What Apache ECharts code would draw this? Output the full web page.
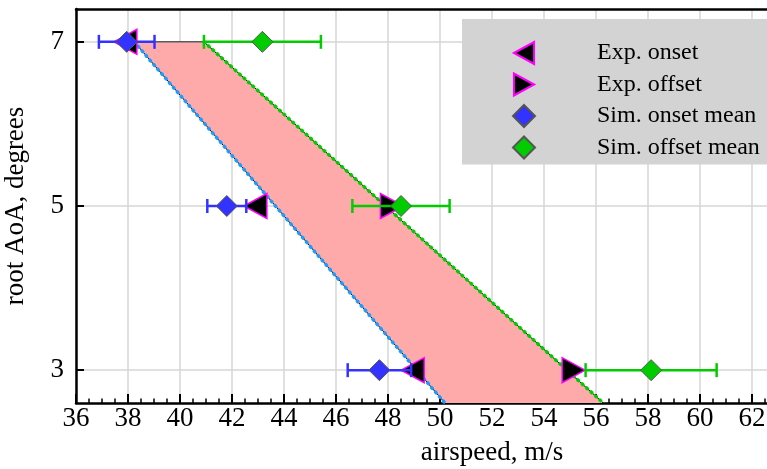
<!DOCTYPE html>
<html><head><meta charset="utf-8">
<script src="https://cdn.jsdelivr.net/npm/echarts@6/dist/echarts.min.js"></script>
<style>html,body{margin:0;padding:0;background:#fff}#c{width:767px;height:469px}</style>
</head><body><div id="c"></div>
<script>
// ---- data ----
const aoa = [7, 5, 3];
const expOnset = [37.9, 42.9, 48.95];
const expOffsetAoa = [5, 3];
const expOffset = [48.15, 55.14];
const simOnsetMean = [37.95, 41.8, 47.67];
const simOnsetErr = [1.07, 0.75, 1.22];
const simOffsetMean = [43.17, 48.5, 58.12];
const simOffsetErr = [2.25, 1.87, 2.52];
const bandAoa = [7, 2.6];
const bandOnsetEdge = [38.24, 50.19];
const bandOffsetEdge = [40.92, 56.28];
const yTicks = [3, 5, 7];
const legendNames = ['Exp. onset', 'Exp. offset', 'Sim. onset mean', 'Sim. offset mean'];

const FONT = 'Liberation Serif';
const chart = echarts.init(document.getElementById('c'), null, {renderer: 'canvas'});

const pairs = (xs, ys) => xs.map((x, i) => [x, ys[i]]);
const errData = (m, e) => m.map((v, i) => [v - e[i], v + e[i], aoa[i]]);

function errRender(color) {
  return function (params, api) {
    const lo = api.coord([api.value(0), api.value(2)]);
    const hi = api.coord([api.value(1), api.value(2)]);
    const c = 7;
    const st = {stroke: color, lineWidth: 2.5, fill: null};
    return {type: 'group', children: [
      {type: 'line', shape: {x1: lo[0], y1: lo[1], x2: hi[0], y2: hi[1]}, style: st},
      {type: 'line', shape: {x1: lo[0], y1: lo[1] - c, x2: lo[0], y2: lo[1] + c}, style: st},
      {type: 'line', shape: {x1: hi[0], y1: hi[1] - c, x2: hi[0], y2: hi[1] + c}, style: st}
    ]};
  };
}

const triLeft = 'path://M0,12 L22,0 L22,24 Z';
const triRight = 'path://M22,12 L0,0 L0,24 Z';

const option = {
  animation: false,
  backgroundColor: '#ffffff',
  textStyle: {fontFamily: FONT},
  grid: {left: 76, top: 9, right: -141, bottom: 66, containLabel: false, outerBoundsMode: 'none'},
  xAxis: [{
    type: 'value', min: 36, max: 68, interval: 2,
    name: 'airspeed, m/s', nameLocation: 'middle', nameGap: 36,
    nameTextStyle: {fontFamily: FONT, fontSize: 27, color: '#000'},
    axisLine: {show: true, onZero: false, lineStyle: {color: '#000', width: 2.5}},
    axisTick: {show: true, inside: true, length: 9, lineStyle: {color: '#000', width: 2}},
    minorTick: {show: true, splitNumber: 4, length: 4.5, lineStyle: {color: '#000', width: 1.5}},
    axisLabel: {fontFamily: FONT, fontSize: 27, color: '#000', margin: 2},
    splitLine: {show: true, lineStyle: {color: '#d6d6d6', width: 1.5}}
  }, {
    type: 'value', position: 'top', min: 36, max: 68, interval: 2,
    axisLine: {show: true, onZero: false, lineStyle: {color: '#000', width: 2.5}},
    axisTick: {show: false}, axisLabel: {show: false}, splitLine: {show: false}
  }],
  yAxis: {
    type: 'value', min: 2.6, max: 7.4,
    name: 'root AoA, degrees', nameLocation: 'middle', nameGap: 47,
    nameTextStyle: {fontFamily: FONT, fontSize: 27, color: '#000'},
    axisLine: {show: true, onZero: false, lineStyle: {color: '#000', width: 2.5}},
    axisTick: {show: true, inside: true, length: 8, customValues: yTicks, lineStyle: {color: '#000', width: 2}},
    axisLabel: {fontFamily: FONT, fontSize: 27, color: '#000', margin: 12, customValues: yTicks},
    splitLine: {show: true, lineStyle: {color: '#d6d6d6', width: 1.5}}
  },
  legend: {
    data: [
      {name: legendNames[0], icon: triLeft},
      {name: legendNames[1], icon: triRight},
      {name: legendNames[2]},
      {name: legendNames[3]}
    ],
    left: 462, top: 19, orient: 'vertical',
    backgroundColor: '#d3d3d3', borderWidth: 0, borderRadius: 0,
    padding: [22, 30, 5, 50],
    itemWidth: 22, itemHeight: 22, itemGap: 7.5,
    textStyle: {fontFamily: FONT, fontSize: 24, color: '#000', padding: [0, 0, 0, 57]}
  },
  series: [
    {
      type: 'custom', silent: true, z: 1,
      data: [[0]],
      renderItem: function (params, api) {
        const pts = [
          api.coord([bandOnsetEdge[0], bandAoa[0]]),
          api.coord([bandOffsetEdge[0], bandAoa[0]]),
          api.coord([bandOffsetEdge[1], bandAoa[1]]),
          api.coord([bandOnsetEdge[1], bandAoa[1]])
        ];
        return {type: 'polygon', shape: {points: pts}, style: {fill: '#ffaaaa', stroke: null}};
      }
    },
    {type: 'line', silent: true, z: 2, symbol: 'none', data: [[bandOnsetEdge[0], bandAoa[0]], [bandOffsetEdge[0], bandAoa[0]]],
      lineStyle: {color: '#5a5a5a', width: 1.5}},
    {type: 'line', silent: true, z: 2, symbol: 'none', data: pairs(bandOnsetEdge, bandAoa), lineStyle: {color: '#000', width: 1}},
    {type: 'line', silent: true, z: 2, symbol: 'none', data: pairs(bandOnsetEdge, bandAoa),
      lineStyle: {color: '#1e9bff', width: 3.5, type: [1, 5], cap: 'round'}},
    {type: 'line', silent: true, z: 2, symbol: 'none', data: pairs(bandOffsetEdge, bandAoa), lineStyle: {color: '#000', width: 1}},
    {type: 'line', silent: true, z: 2, symbol: 'none', data: pairs(bandOffsetEdge, bandAoa),
      lineStyle: {color: '#00cc00', width: 3.5, type: [1, 5], cap: 'round'}},
    {name: 'Exp. onset', type: 'scatter', z: 3, data: pairs(expOnset, aoa),
      symbol: 'triangle', symbolRotate: 90, symbolSize: [25, 23],
      itemStyle: {color: '#000', borderColor: '#ff00ff', borderWidth: 1.5, opacity: 1}},
    {name: 'Exp. offset', type: 'scatter', z: 3, data: pairs(expOffset, expOffsetAoa),
      symbol: 'triangle', symbolRotate: -90, symbolSize: [25, 23],
      itemStyle: {color: '#000', borderColor: '#ff00ff', borderWidth: 1.5, opacity: 1}},
    {type: 'custom', silent: true, z: 4, data: errData(simOnsetMean, simOnsetErr), renderItem: errRender('#3333ff')},
    {name: 'Sim. onset mean', type: 'scatter', z: 4, data: pairs(simOnsetMean, aoa),
      symbol: 'diamond', symbolSize: 21,
      itemStyle: {color: '#3333ff', borderColor: '#555555', borderWidth: 1, opacity: 1}},
    {type: 'custom', silent: true, z: 5, data: errData(simOffsetMean, simOffsetErr), renderItem: errRender('#00cc00')},
    {name: 'Sim. offset mean', type: 'scatter', z: 5, data: pairs(simOffsetMean, aoa),
      symbol: 'diamond', symbolSize: 21,
      itemStyle: {color: '#00cc00', borderColor: '#555555', borderWidth: 1, opacity: 1}}
  ]
};
chart.setOption(option);
</script>
</body></html>
